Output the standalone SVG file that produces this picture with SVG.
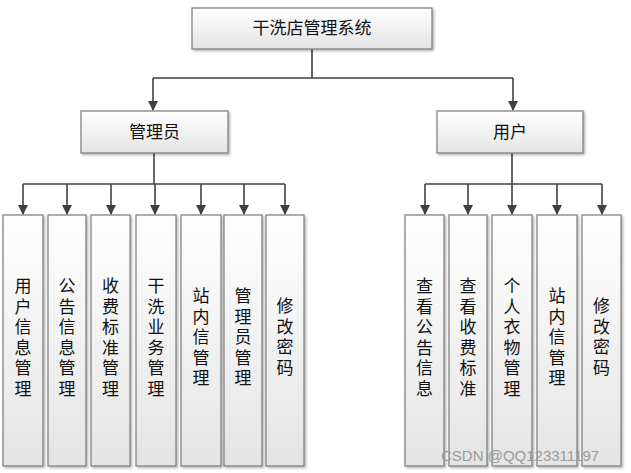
<svg xmlns="http://www.w3.org/2000/svg" width="631" height="473" viewBox="0 0 631 473">
<defs>
<linearGradient id="g" x1="0" y1="0" x2="0" y2="1">
<stop offset="0" stop-color="#ffffff"/>
<stop offset="1" stop-color="#e4e4e4"/>
</linearGradient>
<filter id="sh" x="-10%" y="-10%" width="130%" height="130%">
<feDropShadow dx="1.5" dy="1.5" stdDeviation="1" flood-color="#000" flood-opacity="0.3"/>
</filter>
<marker id="ah" markerWidth="10" markerHeight="10" refX="9" refY="5" orient="auto" markerUnits="userSpaceOnUse">
<path d="M0,0 L10,5 L0,10 Z" fill="#404040"/>
</marker>
<style>
.box{fill:url(#g);stroke:#7a7a7a;stroke-width:1.2;filter:url(#sh)}
.t{font-family:"Noto Sans CJK SC","Noto Sans",sans-serif;font-size:17px;fill:#111;text-anchor:middle}
.c{fill:none;stroke:#404040;stroke-width:1.6}
.a{fill:none;stroke:#404040;stroke-width:1.6;marker-end:url(#ah)}
.wm{font-family:"Liberation Sans",Arial,sans-serif;font-size:15px;fill:#9a9a9a}
</style>
</defs>
<rect width="631" height="473" fill="#fff"/>
<g id="connectors">
<path class="c" d="M312,49 V78 M153,78 H513"/>
<path class="a" d="M153,78 V110"/>
<path class="a" d="M513,78 V110"/>
<path class="c" d="M154,153 V184" stroke-width="2.2"/>
<path class="c" d="M23,184 H285"/>
<path class="a" d="M23,184 V214"/>
<path class="a" d="M67,184 V214"/>
<path class="a" d="M111,184 V214"/>
<path class="a" d="M155,184 V214"/>
<path class="a" d="M201,184 V214"/>
<path class="a" d="M244,184 V214"/>
<path class="a" d="M285,184 V214"/>
<path class="c" d="M512,153 V184" stroke-width="2.2"/>
<path class="c" d="M425,184 H602"/>
<path class="a" d="M425,184 V214"/>
<path class="a" d="M468,184 V214"/>
<path class="a" d="M512,184 V214"/>
<path class="a" d="M557,184 V214"/>
<path class="a" d="M602,184 V214"/>
</g>
<g id="root"><rect class="box" x="192" y="8" width="240" height="41"/><text class="t" x="312" y="34">干洗店管理系统</text></g>
<g id="admin"><rect class="box" x="81" y="111" width="147" height="42"/><text class="t" x="154.5" y="138">管理员</text></g>
<g id="user"><rect class="box" x="437" y="111" width="146" height="42"/><text class="t" x="510" y="138">用户</text></g>

<g id="a1"><rect class="box" x="3" y="215" width="40" height="251"/><text class="t" x="23"><tspan x="23" y="292">用</tspan><tspan x="23" dy="20.5">户</tspan><tspan x="23" dy="20.5">信</tspan><tspan x="23" dy="20.5">息</tspan><tspan x="23" dy="20.5">管</tspan><tspan x="23" dy="20.5">理</tspan></text></g>
<g id="a2"><rect class="box" x="48" y="215" width="38" height="251"/><text class="t"><tspan x="67" y="292">公</tspan><tspan x="67" dy="20.5">告</tspan><tspan x="67" dy="20.5">信</tspan><tspan x="67" dy="20.5">息</tspan><tspan x="67" dy="20.5">管</tspan><tspan x="67" dy="20.5">理</tspan></text></g>
<g id="a3"><rect class="box" x="91" y="215" width="39" height="251"/><text class="t"><tspan x="110.5" y="292">收</tspan><tspan x="110.5" dy="20.5">费</tspan><tspan x="110.5" dy="20.5">标</tspan><tspan x="110.5" dy="20.5">准</tspan><tspan x="110.5" dy="20.5">管</tspan><tspan x="110.5" dy="20.5">理</tspan></text></g>
<g id="a4"><rect class="box" x="136" y="215" width="40" height="251"/><text class="t"><tspan x="156" y="292">干</tspan><tspan x="156" dy="20.5">洗</tspan><tspan x="156" dy="20.5">业</tspan><tspan x="156" dy="20.5">务</tspan><tspan x="156" dy="20.5">管</tspan><tspan x="156" dy="20.5">理</tspan></text></g>
<g id="a5"><rect class="box" x="181" y="215" width="40" height="251"/><text class="t"><tspan x="201" y="302">站</tspan><tspan x="201" dy="20.5">内</tspan><tspan x="201" dy="20.5">信</tspan><tspan x="201" dy="20.5">管</tspan><tspan x="201" dy="20.5">理</tspan></text></g>
<g id="a6"><rect class="box" x="224" y="215" width="38" height="251"/><text class="t"><tspan x="243" y="302">管</tspan><tspan x="243" dy="20.5">理</tspan><tspan x="243" dy="20.5">员</tspan><tspan x="243" dy="20.5">管</tspan><tspan x="243" dy="20.5">理</tspan></text></g>
<g id="a7"><rect class="box" x="266" y="215" width="38" height="251"/><text class="t"><tspan x="285" y="312">修</tspan><tspan x="285" dy="20.5">改</tspan><tspan x="285" dy="20.5">密</tspan><tspan x="285" dy="20.5">码</tspan></text></g>

<g id="u1"><rect class="box" x="405" y="215" width="39" height="251"/><text class="t"><tspan x="424.5" y="292">查</tspan><tspan x="424.5" dy="20.5">看</tspan><tspan x="424.5" dy="20.5">公</tspan><tspan x="424.5" dy="20.5">告</tspan><tspan x="424.5" dy="20.5">信</tspan><tspan x="424.5" dy="20.5">息</tspan></text></g>
<g id="u2"><rect class="box" x="449" y="215" width="38" height="251"/><text class="t"><tspan x="468" y="292">查</tspan><tspan x="468" dy="20.5">看</tspan><tspan x="468" dy="20.5">收</tspan><tspan x="468" dy="20.5">费</tspan><tspan x="468" dy="20.5">标</tspan><tspan x="468" dy="20.5">准</tspan></text></g>
<g id="u3"><rect class="box" x="492" y="215" width="40" height="251"/><text class="t"><tspan x="512" y="292">个</tspan><tspan x="512" dy="20.5">人</tspan><tspan x="512" dy="20.5">衣</tspan><tspan x="512" dy="20.5">物</tspan><tspan x="512" dy="20.5">管</tspan><tspan x="512" dy="20.5">理</tspan></text></g>
<g id="u4"><rect class="box" x="537" y="215" width="40" height="251"/><text class="t"><tspan x="557" y="302">站</tspan><tspan x="557" dy="20.5">内</tspan><tspan x="557" dy="20.5">信</tspan><tspan x="557" dy="20.5">管</tspan><tspan x="557" dy="20.5">理</tspan></text></g>
<g id="u5"><rect class="box" x="582" y="215" width="39" height="251"/><text class="t"><tspan x="601.5" y="312">修</tspan><tspan x="601.5" dy="20.5">改</tspan><tspan x="601.5" dy="20.5">密</tspan><tspan x="601.5" dy="20.5">码</tspan></text></g>

<text class="wm" x="441" y="461">CSDN @QQ123311197</text>
</svg>
